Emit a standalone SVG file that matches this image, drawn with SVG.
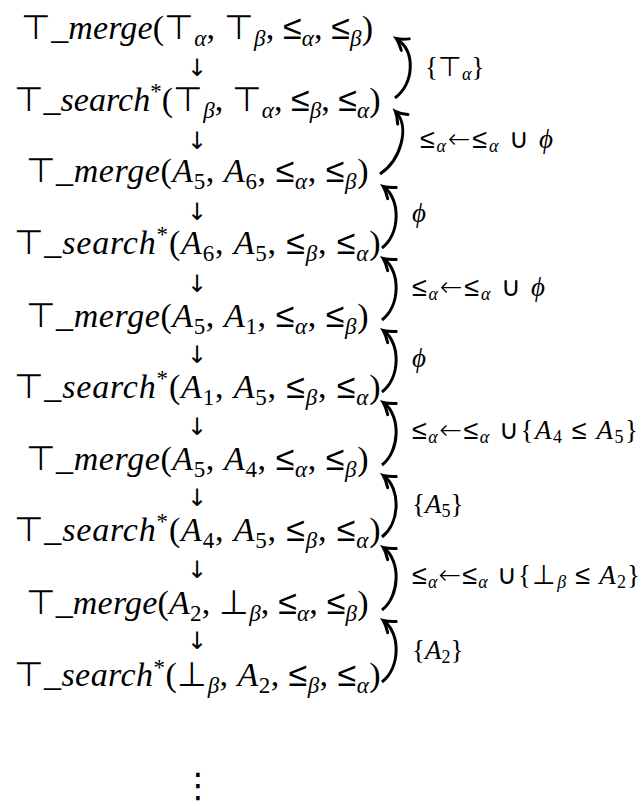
<svg xmlns="http://www.w3.org/2000/svg" width="644" height="806" viewBox="0 0 644 806">
<defs>
<style>
.m { font-family: "Liberation Serif", "Times New Roman", serif; font-size: 34px; fill: #000; }
.l { font-family: "Liberation Serif", "Times New Roman", serif; font-size: 27px; fill: #000; }
.i { font-style: italic; }
.sy { font-family: "DejaVu Sans", "Liberation Sans", sans-serif; font-weight: 300; }
.s { font-size: 23px; }
.ls { font-size: 18px; }
.arr { font-family: "DejaVu Sans", sans-serif; font-size: 24px; fill: #000; }
.dots { font-family: "DejaVu Sans", sans-serif; font-size: 34px; fill: #000; }
.c { fill: none; stroke: #000; stroke-width: 3; }
</style>
<marker id="ah" markerUnits="userSpaceOnUse" markerWidth="24" markerHeight="24" refX="0" refY="0" orient="auto" overflow="visible">
<path d="M -10 -7 Q -4 -2 1 0 Q -4 2 -10 7" fill="none" stroke="#000" stroke-width="3" stroke-linecap="round"/>
</marker>
</defs>

<g id="n1"><text class="m" x="197" y="39" text-anchor="middle" textLength="352"><tspan class="sy">⊤</tspan>_<tspan class="i">merge</tspan>(<tspan class="sy">⊤</tspan><tspan class="i s" dy="7">α</tspan><tspan dy="-7">, </tspan><tspan class="sy">⊤</tspan><tspan class="i s" dy="7">β</tspan><tspan dy="-7">, </tspan><tspan class="sy">≤</tspan><tspan class="i s" dy="7">α</tspan><tspan dy="-7">, </tspan><tspan class="sy">≤</tspan><tspan class="i s" dy="7">β</tspan><tspan dy="-7">)</tspan></text></g>

<g id="n2"><text class="m" x="197" y="111" text-anchor="middle" textLength="367"><tspan class="sy">⊤</tspan>_<tspan class="i">search</tspan><tspan dy="-12" class="s">*</tspan><tspan dy="12">(</tspan><tspan class="sy">⊤</tspan><tspan class="i s" dy="7">β</tspan><tspan dy="-7">, </tspan><tspan class="sy">⊤</tspan><tspan class="i s" dy="7">α</tspan><tspan dy="-7">, </tspan><tspan class="sy">≤</tspan><tspan class="i s" dy="7">β</tspan><tspan dy="-7">, </tspan><tspan class="sy">≤</tspan><tspan class="i s" dy="7">α</tspan><tspan dy="-7">)</tspan></text></g>

<g id="n3"><text class="m" x="197" y="182" text-anchor="middle" textLength="343"><tspan class="sy">⊤</tspan>_<tspan class="i">merge</tspan>(<tspan class="i">A</tspan><tspan class="s" dy="7">5</tspan><tspan dy="-7">, </tspan><tspan class="i">A</tspan><tspan class="s" dy="7">6</tspan><tspan dy="-7">, </tspan><tspan class="sy">≤</tspan><tspan class="i s" dy="7">α</tspan><tspan dy="-7">, </tspan><tspan class="sy">≤</tspan><tspan class="i s" dy="7">β</tspan><tspan dy="-7">)</tspan></text></g>

<g id="n4"><text class="m" x="197" y="254" text-anchor="middle" textLength="367"><tspan class="sy">⊤</tspan>_<tspan class="i">search</tspan><tspan dy="-12" class="s">*</tspan><tspan dy="12">(</tspan><tspan class="i">A</tspan><tspan class="s" dy="7">6</tspan><tspan dy="-7">, </tspan><tspan class="i">A</tspan><tspan class="s" dy="7">5</tspan><tspan dy="-7">, </tspan><tspan class="sy">≤</tspan><tspan class="i s" dy="7">β</tspan><tspan dy="-7">, </tspan><tspan class="sy">≤</tspan><tspan class="i s" dy="7">α</tspan><tspan dy="-7">)</tspan></text></g>

<g id="n5"><text class="m" x="197" y="327" text-anchor="middle" textLength="343"><tspan class="sy">⊤</tspan>_<tspan class="i">merge</tspan>(<tspan class="i">A</tspan><tspan class="s" dy="7">5</tspan><tspan dy="-7">, </tspan><tspan class="i">A</tspan><tspan class="s" dy="7">1</tspan><tspan dy="-7">, </tspan><tspan class="sy">≤</tspan><tspan class="i s" dy="7">α</tspan><tspan dy="-7">, </tspan><tspan class="sy">≤</tspan><tspan class="i s" dy="7">β</tspan><tspan dy="-7">)</tspan></text></g>

<g id="n6"><text class="m" x="197" y="398" text-anchor="middle" textLength="367"><tspan class="sy">⊤</tspan>_<tspan class="i">search</tspan><tspan dy="-12" class="s">*</tspan><tspan dy="12">(</tspan><tspan class="i">A</tspan><tspan class="s" dy="7">1</tspan><tspan dy="-7">, </tspan><tspan class="i">A</tspan><tspan class="s" dy="7">5</tspan><tspan dy="-7">, </tspan><tspan class="sy">≤</tspan><tspan class="i s" dy="7">β</tspan><tspan dy="-7">, </tspan><tspan class="sy">≤</tspan><tspan class="i s" dy="7">α</tspan><tspan dy="-7">)</tspan></text></g>

<g id="n7"><text class="m" x="197" y="470" text-anchor="middle" textLength="343"><tspan class="sy">⊤</tspan>_<tspan class="i">merge</tspan>(<tspan class="i">A</tspan><tspan class="s" dy="7">5</tspan><tspan dy="-7">, </tspan><tspan class="i">A</tspan><tspan class="s" dy="7">4</tspan><tspan dy="-7">, </tspan><tspan class="sy">≤</tspan><tspan class="i s" dy="7">α</tspan><tspan dy="-7">, </tspan><tspan class="sy">≤</tspan><tspan class="i s" dy="7">β</tspan><tspan dy="-7">)</tspan></text></g>

<g id="n8"><text class="m" x="197" y="541" text-anchor="middle" textLength="367"><tspan class="sy">⊤</tspan>_<tspan class="i">search</tspan><tspan dy="-12" class="s">*</tspan><tspan dy="12">(</tspan><tspan class="i">A</tspan><tspan class="s" dy="7">4</tspan><tspan dy="-7">, </tspan><tspan class="i">A</tspan><tspan class="s" dy="7">5</tspan><tspan dy="-7">, </tspan><tspan class="sy">≤</tspan><tspan class="i s" dy="7">β</tspan><tspan dy="-7">, </tspan><tspan class="sy">≤</tspan><tspan class="i s" dy="7">α</tspan><tspan dy="-7">)</tspan></text></g>

<g id="n9"><text class="m" x="197" y="614" text-anchor="middle" textLength="343"><tspan class="sy">⊤</tspan>_<tspan class="i">merge</tspan>(<tspan class="i">A</tspan><tspan class="s" dy="7">2</tspan><tspan dy="-7">, </tspan><tspan class="sy">⊥</tspan><tspan class="i s" dy="7">β</tspan><tspan dy="-7">, </tspan><tspan class="sy">≤</tspan><tspan class="i s" dy="7">α</tspan><tspan dy="-7">, </tspan><tspan class="sy">≤</tspan><tspan class="i s" dy="7">β</tspan><tspan dy="-7">)</tspan></text></g>

<g id="n10"><text class="m" x="197" y="686" text-anchor="middle" textLength="367"><tspan class="sy">⊤</tspan>_<tspan class="i">search</tspan><tspan dy="-11" class="s">*</tspan><tspan dy="11">(</tspan><tspan class="sy">⊥</tspan><tspan class="i s" dy="7">β</tspan><tspan dy="-7">, </tspan><tspan class="i">A</tspan><tspan class="s" dy="7">2</tspan><tspan dy="-7">, </tspan><tspan class="sy">≤</tspan><tspan class="i s" dy="7">β</tspan><tspan dy="-7">, </tspan><tspan class="sy">≤</tspan><tspan class="i s" dy="7">α</tspan><tspan dy="-7">)</tspan></text></g>

<g id="dots"><text class="dots" x="198" y="797" text-anchor="middle">⋮</text></g>

<g id="connectors">
<text class="arr" x="197" y="76" text-anchor="middle">↓</text>
<text class="arr" x="197" y="149" text-anchor="middle">↓</text>
<text class="arr" x="197" y="220" text-anchor="middle">↓</text>
<text class="arr" x="197" y="292" text-anchor="middle">↓</text>
<text class="arr" x="197" y="363" text-anchor="middle">↓</text>
<text class="arr" x="197" y="435" text-anchor="middle">↓</text>
<text class="arr" x="197" y="506" text-anchor="middle">↓</text>
<text class="arr" x="197" y="578" text-anchor="middle">↓</text>
<text class="arr" x="197" y="649" text-anchor="middle">↓</text>

<path class="c" marker-end="url(#ah)" d="M 395 98 C 414 83, 416 52, 397 39"/>
<path class="c" marker-end="url(#ah)" d="M 380 174 C 401 160, 410 127, 396 112"/>
<path class="c" marker-end="url(#ah)" d="M 382 248 C 400 234, 401 200, 384 187"/>
<path class="c" marker-end="url(#ah)" d="M 382 320 C 400 306, 401 272, 384 259"/>
<path class="c" marker-end="url(#ah)" d="M 382 392 C 400 378, 401 344, 384 331"/>
<path class="c" marker-end="url(#ah)" d="M 382 465 C 400 451, 401 416, 384 403"/>
<path class="c" marker-end="url(#ah)" d="M 382 537 C 400 523, 401 489, 384 476"/>
<path class="c" marker-end="url(#ah)" d="M 382 610 C 400 596, 401 561, 384 548"/>
<path class="c" marker-end="url(#ah)" d="M 382 682 C 400 668, 401 634, 384 621"/>

<text class="l" x="425" y="76">{<tspan class="sy">⊤</tspan><tspan class="i ls" dy="4">α</tspan><tspan dy="-4">}</tspan></text>
<text class="l" x="420" y="148" textLength="133"><tspan class="sy">≤</tspan><tspan class="i ls" dy="4">α</tspan><tspan dy="-4" class="sy">←≤</tspan><tspan class="i ls" dy="4">α</tspan><tspan dy="-4"> </tspan><tspan class="sy">∪</tspan> <tspan class="i">ϕ</tspan></text>
<text class="l" x="412" y="222"><tspan class="i">ϕ</tspan></text>
<text class="l" x="412" y="296" textLength="133"><tspan class="sy">≤</tspan><tspan class="i ls" dy="4">α</tspan><tspan dy="-4" class="sy">←≤</tspan><tspan class="i ls" dy="4">α</tspan><tspan dy="-4"> </tspan><tspan class="sy">∪</tspan> <tspan class="i">ϕ</tspan></text>
<text class="l" x="412" y="367"><tspan class="i">ϕ</tspan></text>
<text class="l" x="412" y="439" textLength="226"><tspan class="sy">≤</tspan><tspan class="i ls" dy="4">α</tspan><tspan dy="-4" class="sy">←≤</tspan><tspan class="i ls" dy="4">α</tspan><tspan dy="-4"> </tspan><tspan class="sy">∪</tspan>{<tspan class="i">A</tspan><tspan class="ls" dy="4">4</tspan><tspan dy="-4"> </tspan><tspan class="sy">≤</tspan> <tspan class="i">A</tspan><tspan class="ls" dy="4">5</tspan><tspan dy="-4">}</tspan></text>
<text class="l" x="412" y="513">{<tspan class="i">A</tspan><tspan class="ls" dy="4">5</tspan><tspan dy="-4">}</tspan></text>
<text class="l" x="412" y="584" textLength="228"><tspan class="sy">≤</tspan><tspan class="i ls" dy="4">α</tspan><tspan dy="-4" class="sy">←≤</tspan><tspan class="i ls" dy="4">α</tspan><tspan dy="-4"> </tspan><tspan class="sy">∪</tspan>{<tspan class="sy">⊥</tspan><tspan class="i ls" dy="4">β</tspan><tspan dy="-4"> </tspan><tspan class="sy">≤</tspan> <tspan class="i">A</tspan><tspan class="ls" dy="4">2</tspan><tspan dy="-4">}</tspan></text>
<text class="l" x="412" y="659">{<tspan class="i">A</tspan><tspan class="ls" dy="4">2</tspan><tspan dy="-4">}</tspan></text>
</g>
</svg>
